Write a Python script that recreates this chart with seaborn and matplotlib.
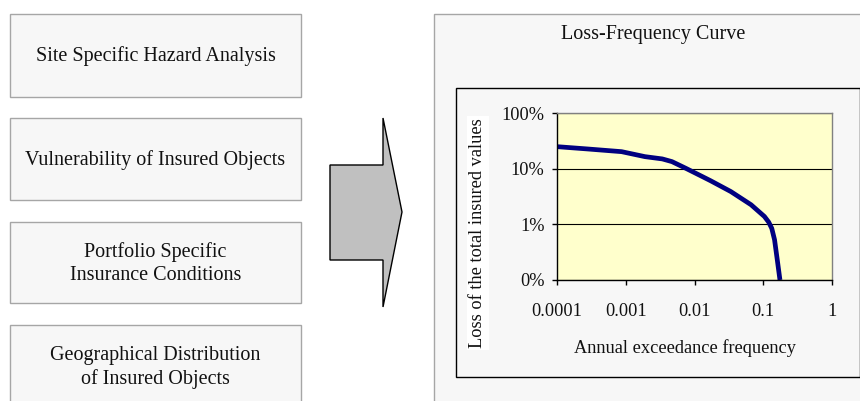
import matplotlib
matplotlib.use("Agg")
import matplotlib.pyplot as plt
from matplotlib.patches import Rectangle, Polygon
from matplotlib.ticker import FixedLocator, NullLocator, FixedFormatter
import seaborn as sns
import pandas as pd

# ---- data ----
freq = [1e-4, 2.8e-4, 8.7e-4, 1.9e-3, 3.4e-3, 4.7e-3, 7.4e-3, 1.29e-2,
        1.72e-2, 3.38e-2, 6.65e-2, 0.104, 0.120, 0.133, 0.146, 0.160, 0.175]
loss = [0.251, 0.228, 0.204, 0.166, 0.151, 0.135, 0.103, 0.073,
        0.061, 0.039, 0.0226, 0.0139, 0.0110, 0.0085, 0.0053, 0.0023, 0.0010]
x_ticks = [1e-4, 1e-3, 1e-2, 1e-1, 1]
x_tick_labels = ["0.0001", "0.001", "0.01", "0.1", "1"]
y_ticks = [0.001, 0.01, 0.1, 1]
y_tick_labels = ["0%", "1%", "10%", "100%"]
box_labels = ["Site Specific Hazard Analysis",
              "Vulnerability of Insured Objects",
              "Portfolio Specific\nInsurance Conditions",
              "Geographical Distribution\nof Insured Objects"]
title = "Loss-Frequency Curve"
xlabel = "Annual exceedance frequency"
ylabel = "Loss of the total insured values"

sns.set_style("white")
plt.rcParams["font.family"] = ["Liberation Serif", "DejaVu Serif"]

W, H = 860, 401
fig = plt.figure(figsize=(W / 100, H / 100), dpi=100)
fig.patch.set_facecolor("white")

# background canvas in pixel coordinates
bg = fig.add_axes([0, 0, 1, 1])
bg.set_xlim(0, W)
bg.set_ylim(H, 0)
bg.axis("off")

panel_bg = "#f7f7f7"
box_edge = "#a6a6a6"
boxes_y = [(14, 97), (118, 200), (222, 303), (325, 408)]
for (y0, y1), lab in zip(boxes_y, box_labels):
    bg.add_patch(Rectangle((10, y0), 291, y1 - y0, facecolor=panel_bg,
                           edgecolor=box_edge, lw=1.0, clip_on=False))
for lab, yc in zip(box_labels, [56, 160, 263.5, 367.5]):
    bg.text(155.5, yc, lab, ha="center", va="center", fontsize=14.5,
            linespacing=1.3, color="#111111")

# arrow
arrow = [(330, 165), (383, 165), (383, 118), (402, 212), (383, 307),
         (383, 260), (330, 260)]
bg.add_patch(Polygon(arrow, closed=True, facecolor="#c0c0c0",
                     edgecolor="black", lw=1.0))

# outer panel
bg.add_patch(Rectangle((434, 14), 440, 400, facecolor=panel_bg,
                       edgecolor=box_edge, lw=1.0, clip_on=False))
bg.text(653.5, 34, title, ha="center", va="center", fontsize=14.5,
        color="#111111")
# inner chart box
bg.add_patch(Rectangle((456, 88), 403.5, 289, facecolor=panel_bg,
                       edgecolor="black", lw=1.0))
# axis labels
bg.text(685.5, 348, xlabel, ha="center", va="center", fontsize=13.2,
        color="#111111")
bg.text(478, 233, ylabel, ha="center", va="center", fontsize=13.2,
        rotation=90, color="#111111",
        bbox=dict(facecolor="white", edgecolor="none", pad=1.5))

# plot axes
left, right, top, bottom = 557, 832, 113.3, 280
ax = fig.add_axes([left / W, 1 - bottom / H, (right - left) / W,
                   (bottom - top) / H])
ax.set_facecolor("#ffffcc")
df = pd.DataFrame({"freq": freq, "loss": loss})
sns.lineplot(data=df, x="freq", y="loss", ax=ax, color="#000080",
             linewidth=3.4, solid_capstyle="butt", solid_joinstyle="round")
ax.set_xscale("log")
ax.set_yscale("log")
ax.set_xlim(1e-4, 1)
ax.set_ylim(1e-3, 1)
ax.xaxis.set_major_locator(FixedLocator(x_ticks))
ax.xaxis.set_major_formatter(FixedFormatter(x_tick_labels))
ax.yaxis.set_major_locator(FixedLocator(y_ticks))
ax.yaxis.set_major_formatter(FixedFormatter(y_tick_labels))
ax.xaxis.set_minor_locator(NullLocator())
ax.yaxis.set_minor_locator(NullLocator())
ax.set_xlabel("")
ax.set_ylabel("")
ax.grid(False)
ax.yaxis.grid(True, color="black", lw=0.8)
ax.set_axisbelow(True)
for s in ["left", "bottom"]:
    ax.spines[s].set_color("black")
    ax.spines[s].set_linewidth(1.0)
for s in ["top", "right"]:
    ax.spines[s].set_color("#808080")
    ax.spines[s].set_linewidth(1.0)
ax.tick_params(axis="x", direction="out", length=3.6, width=1.0,
               colors="black", pad=13.0, labelsize=13.2, bottom=True)
ax.tick_params(axis="y", direction="out", length=3.6, width=1.0,
               colors="black", pad=5.5, labelsize=13.2, left=True)
for lab in ax.get_xticklabels() + ax.get_yticklabels():
    lab.set_color("#111111")

fig.savefig("out.png", dpi=100, facecolor="white")
